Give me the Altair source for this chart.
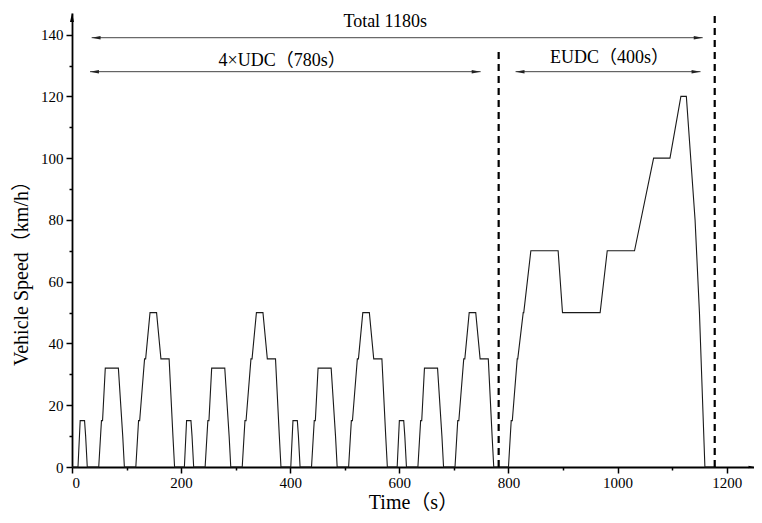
import altair as alt
import pandas as pd

# ---- data (NEDC speed profile) ----
udc_time = [0, 11, 15, 23, 25, 28, 49, 54, 56, 61, 85, 93, 96, 117, 122, 124, 133, 135,
            143, 155, 163, 176, 178, 185, 188, 195]
udc_speed = [0, 0, 15, 15, 10, 0, 0, 15, 15, 32, 32, 10, 0, 0, 15, 15, 35, 35,
             50, 50, 35, 35, 35, 10, 0, 0]
udc_offsets = [0, 195, 390, 585]
eudc_start = 780
eudc_time = [0, 20, 25, 27, 36, 37, 47, 48, 61, 111, 119, 188, 201, 251, 286, 316,
             336, 346, 362, 370, 380, 400]
eudc_speed = [0, 0, 15, 15, 35, 35, 50, 50, 70, 70, 50, 50, 70, 70, 100, 100,
              120, 120, 80, 50, 0, 0]

boundary_x = [782, 1178]
boundary_top = [136, 146]

arrow_y = [139, 128, 128]
arrow_x1 = [36, 33, 813]
arrow_x2 = [1156, 749, 1152]

label_text = ["Total 1180s", "4×UDC（780s）", "EUDC（400s）"]
label_x = [574, 385, 985]
label_y = [144.0, 131.5, 132.5]

x_max = 1250
y_max = 147
x_ticks = [0, 200, 400, 600, 800, 1000, 1200]
y_ticks = [0, 20, 40, 60, 80, 100, 120, 140]
x_minor = [100, 300, 500, 700, 900, 1100]
y_minor = [10, 30, 50, 70, 90, 110, 130]

# ---- build tables ----
rows = []
i = 0
for off in udc_offsets:
    for t, v in zip(udc_time, udc_speed):
        rows.append({"t": off + t, "v": v, "i": i})
        i += 1
for t, v in zip(eudc_time, eudc_speed):
    rows.append({"t": eudc_start + t, "v": v, "i": i})
    i += 1
speed_df = pd.DataFrame(rows)

bound_df = pd.DataFrame({"x": boundary_x, "top": boundary_top, "bottom": [0, 0]})
arrow_df = pd.DataFrame({"y": arrow_y, "x1": arrow_x1, "x2": arrow_x2})
label_df = pd.DataFrame({"text": label_text, "x": label_x, "y": label_y})
up_df = pd.DataFrame({"x": [0], "y": [y_max]})
right_df = pd.DataFrame({"x": [x_max], "y": [0]})

FONT = "Liberation Serif, Noto Sans CJK SC"

xscale = alt.Scale(domain=[0, x_max], nice=False)
yscale = alt.Scale(domain=[0, y_max], nice=False)

x_axis = alt.Axis(values=x_ticks, format="d", tickSize=6, orient="bottom",
                  title="Time（s）", titlePadding=2, labelPadding=2)
y_axis = alt.Axis(values=y_ticks, format="d", tickSize=6, orient="left",
                  title="Vehicle Speed（km/h）", titlePadding=9, labelPadding=3,
                  titleY=255)
x_axis_minor = alt.Axis(values=x_minor, tickSize=3, orient="bottom", labels=False,
                        domain=False, title="")
y_axis_minor = alt.Axis(values=y_minor, tickSize=3, orient="left", labels=False,
                        domain=False, title="")

line = alt.Chart(speed_df).mark_line(color="#1a1a1a", strokeWidth=1.1).encode(
    x=alt.X("t:Q", scale=xscale, axis=x_axis),
    y=alt.Y("v:Q", scale=yscale, axis=y_axis),
    order="i:Q",
)

minor = alt.Chart(speed_df).mark_point(opacity=0).encode(
    x=alt.X("t:Q", scale=xscale, axis=x_axis_minor),
    y=alt.Y("v:Q", scale=yscale, axis=y_axis_minor),
)

bounds = alt.Chart(bound_df).mark_rule(color="black", strokeWidth=2.2, strokeDash=[7, 5]).encode(
    x=alt.X("x:Q", axis=None),
    y=alt.Y("bottom:Q", axis=None),
    y2="top:Q",
)

arrows = alt.Chart(arrow_df).mark_rule(color="#444444", strokeWidth=1).encode(
    x=alt.X("x1:Q", axis=None), x2="x2:Q", y=alt.Y("y:Q", axis=None),
)
heads_left = alt.Chart(arrow_df).mark_point(
    shape="M0,0 L2,-0.4 L2,0.4 Z", filled=True, size=80, color="#222222", opacity=1
).encode(x=alt.X("x1:Q", axis=None), y=alt.Y("y:Q", axis=None))
heads_right = alt.Chart(arrow_df).mark_point(
    shape="M0,0 L-2,-0.4 L-2,0.4 Z", filled=True, size=80, color="#222222", opacity=1
).encode(x=alt.X("x2:Q", axis=None), y=alt.Y("y:Q", axis=None))

axis_up = alt.Chart(up_df).mark_point(
    shape="M0,0 L-0.45,2 L0.45,2 Z", filled=True, size=80, color="black", opacity=1
).encode(x=alt.X("x:Q", axis=None), y=alt.Y("y:Q", axis=None))
axis_right = alt.Chart(right_df).mark_point(
    shape="M0,0 L-2,-0.45 L-2,0.45 Z", filled=True, size=30, color="black", opacity=1
).encode(x=alt.X("x:Q", axis=None), y=alt.Y("y:Q", axis=None))

labels = alt.Chart(label_df).mark_text(font=FONT, fontSize=18, color="black").encode(
    x=alt.X("x:Q", axis=None), y=alt.Y("y:Q", axis=None), text="text:N",
)

chart = alt.layer(
    line, minor, bounds, arrows, heads_left, heads_right, axis_up, axis_right, labels
).resolve_axis(x="independent", y="independent").properties(
    width=682, height=454,
    autosize=alt.AutoSizeParams(type="none"),
    padding={"left": 64, "top": 5, "right": 0, "bottom": 48},
).configure_view(stroke=None).configure_axis(
    grid=False,
    domainColor="black", domainWidth=1.8,
    tickColor="black", tickWidth=1.5,
    labelFont=FONT, labelFontSize=15, labelColor="black",
    titleFont=FONT, titleFontSize=20, titleFontWeight="normal", titleColor="black",
)

chart.save("out.html", embed_options={"renderer": "svg", "actions": False})
